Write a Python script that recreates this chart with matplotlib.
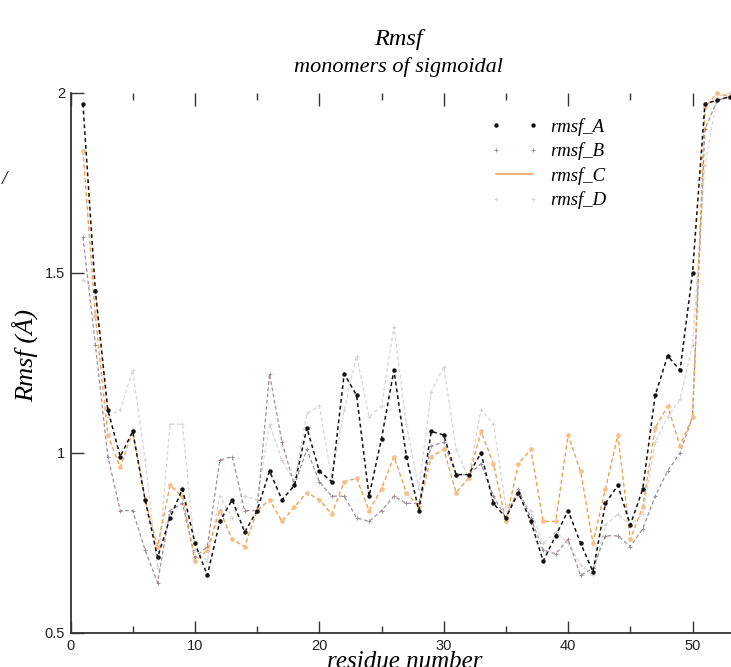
import matplotlib
matplotlib.use("Agg")
import matplotlib.pyplot as plt
from matplotlib.lines import Line2D

# Per-residue RMSF of the four monomers
residues = list(range(1, 54))
rmsf_A = [1.97, 1.45, 1.12, 0.99, 1.06, 0.87, 0.71, 0.82, 0.90, 0.75,
          0.66, 0.81, 0.87, 0.78, 0.84, 0.95, 0.87, 0.91, 1.07, 0.95,
          0.92, 1.22, 1.16, 0.88, 1.04, 1.23, 0.99, 0.84, 1.06, 1.05,
          0.94, 0.94, 1.00, 0.86, 0.82, 0.89, 0.81, 0.70, 0.77, 0.84,
          0.75, 0.67, 0.86, 0.91, 0.80, 0.90, 1.16, 1.27, 1.23, 1.50,
          1.97, 1.98, 1.99]
rmsf_B = [1.60, 1.30, 0.99, 0.84, 0.84, 0.73, 0.64, 0.84, 0.86, 0.71,
          0.74, 0.98, 0.99, 0.84, 0.84, 1.22, 1.03, 0.91, 1.01, 0.92,
          0.88, 0.88, 0.82, 0.81, 0.84, 0.88, 0.86, 0.86, 1.02, 1.03,
          0.94, 0.94, 0.97, 0.88, 0.82, 0.90, 0.82, 0.73, 0.72, 0.76,
          0.66, 0.68, 0.77, 0.77, 0.74, 0.79, 0.88, 0.95, 1.00, 1.10,
          1.90, 1.98, 1.99]
rmsf_C = [1.84, 1.38, 1.05, 0.96, 1.06, 0.87, 0.74, 0.91, 0.88, 0.70,
          0.73, 0.84, 0.76, 0.74, 0.84, 0.87, 0.81, 0.85, 0.89, 0.87,
          0.83, 0.92, 0.93, 0.84, 0.90, 0.99, 0.89, 0.85, 0.99, 1.01,
          0.89, 0.93, 1.06, 0.97, 0.81, 0.97, 1.01, 0.81, 0.81, 1.05,
          0.95, 0.75, 0.90, 1.05, 0.76, 0.85, 1.07, 1.13, 1.02, 1.10,
          1.96, 2.00, 1.99]
rmsf_D = [1.48, 1.45, 1.10, 1.12, 1.23, 0.98, 0.68, 1.08, 1.08, 0.73,
          0.70, 0.88, 0.82, 0.88, 0.87, 1.08, 0.98, 0.92, 1.11, 1.13,
          0.93, 1.12, 1.27, 1.10, 1.13, 1.35, 1.08, 0.90, 1.17, 1.24,
          1.01, 0.93, 1.12, 1.08, 0.85, 0.88, 0.84, 0.75, 0.78, 0.75,
          0.69, 0.66, 0.80, 0.83, 0.80, 0.83, 1.03, 1.10, 1.15, 1.30,
          1.80, 1.99, 2.00]

series_names = ["rmsf_A", "rmsf_B", "rmsf_C", "rmsf_D"]
x_ticks = [0, 10, 20, 30, 40, 50]
y_ticks = [0.5, 1, 1.5, 2]
y_tick_labels = ["0.5", "1", "1.5", "2"]

SERIF = "Liberation Serif"
SANS = "Liberation Sans"

fig = plt.figure(figsize=(7.31, 6.67), dpi=100)
ax = fig.add_axes([70.5 / 731, 1 - 633 / 667, 1 - 70.5 / 731, (633 - 93) / 667])

col_A = "#111111"
col_B = "#a08c9a"
col_C = "#f0a04a"
col_D = "#d6d6d6"

ax.plot(residues, rmsf_D, color=col_D, lw=0.9, ls=(0, (3, 2)),
        marker="+", ms=3, mew=0.7, clip_on=False, zorder=2)
ax.plot(residues, rmsf_B, color=col_B, lw=0.9, ls=(0, (3, 2)),
        marker="+", ms=3, mew=0.7, clip_on=False, zorder=3)
ax.plot(residues, rmsf_C, color=col_C, lw=1.0, ls=(0, (3, 2)),
        marker="o", ms=2.4, mfc="#f5c08a", mec="#f5c08a", clip_on=False, zorder=4)
ax.plot(residues, rmsf_A, color=col_A, lw=1.1, ls=(0, (2.5, 2)),
        marker="o", ms=2.2, clip_on=False, zorder=5)

ax.set_xlim(0, (731 - 70.5) / 12.44)
ax.set_ylim(0.5, 2.0)

ax.set_xticks(x_ticks)
ax.set_xticklabels([str(t) for t in x_ticks])
ax.set_xticks([5, 15, 25, 35, 45], minor=True)
ax.set_yticks(y_ticks)
ax.set_yticklabels(y_tick_labels)

ax.tick_params(axis="both", which="major", direction="in", length=9, width=1.0,
               color="#333333", labelsize=10.5, pad=4)
ax.tick_params(axis="x", which="minor", direction="in", length=5, width=1.0,
               color="#333333")
ax.tick_params(axis="x", which="both", top=True)
for t in ax.xaxis.get_major_ticks() + ax.xaxis.get_minor_ticks():
    t.tick2line.set_color("#999999")
for lab in ax.get_xticklabels() + ax.get_yticklabels():
    lab.set_fontfamily(SANS)
    lab.set_color("#222222")

for side in ("top", "right"):
    ax.spines[side].set_visible(False)
for side in ("left", "bottom"):
    ax.spines[side].set_color("#333333")
    ax.spines[side].set_linewidth(1.3)

# Titles and axis labels
fig.text(398 / 731, 1 - 40 / 667, "Rmsf", ha="center", va="center",
         family=SERIF, style="italic", fontsize=17.5)
fig.text(398 / 731, 1 - 67 / 667, "monomers of sigmoidal", ha="center",
         va="center", family=SERIF, style="italic", fontsize=16)
fig.text(25 / 731, 1 - 355 / 667, "Rmsf (Å)", ha="center", va="center",
         rotation=90, family=SERIF, style="italic", fontsize=19)
fig.text(405 / 731, 1 - 662 / 667, "residue number", ha="center",
         va="center", family=SERIF, style="italic", fontsize=18)
fig.text(5 / 731, 1 - 180 / 667, "/", ha="center", va="center",
         family=SERIF, style="italic", fontsize=14)

handles = [
    Line2D([], [], color=col_A, ls="none", marker="o", ms=2.2),
    Line2D([], [], color=col_B, ls="none", marker="+", ms=3, mew=0.7),
    Line2D([], [], color=col_C, ls="-", lw=1.1),
    Line2D([], [], color=col_D, ls="none", marker="+", ms=3, mew=0.7),
]
leg = ax.legend(handles, series_names, loc="upper left",
                bbox_to_anchor=(490 / 731, 1 - 118 / 667),
                bbox_transform=fig.transFigure, frameon=False, numpoints=2,
                handlelength=2.6, handletextpad=0.6, labelspacing=0.35,
                borderpad=0.0, borderaxespad=0.0,
                prop={"family": SERIF, "style": "italic", "size": 13.5})

fig.savefig("out.png", dpi=100)
